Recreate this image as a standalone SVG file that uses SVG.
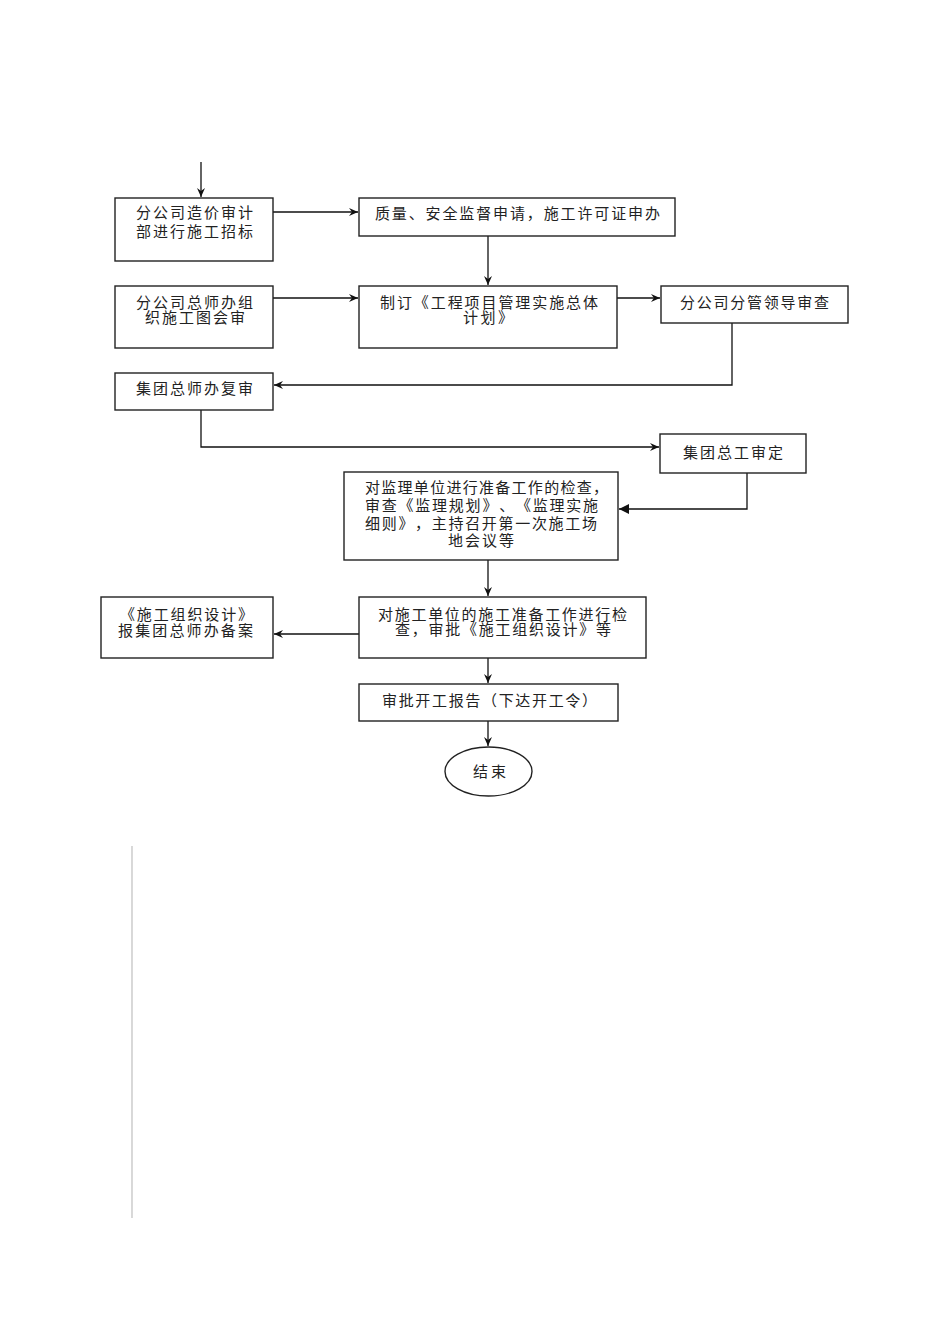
<svg xmlns="http://www.w3.org/2000/svg" width="950" height="1344" viewBox="0 0 950 1344">
<style>
.box{fill:#fff;stroke:#222;stroke-width:1.4}
.t{font-family:"Liberation Serif","Noto Sans CJK SC",serif;font-size:15px;fill:#222;text-spacing-trim:space-all}
.c{fill:none;stroke:#111;stroke-width:1.3}
</style>
<defs>
<marker id="a" markerUnits="userSpaceOnUse" markerWidth="10" markerHeight="10" refX="9" refY="5" orient="auto">
<path d="M0,1 L9,5 L0,9 L3,5 z" fill="#111"/>
</marker>
<marker id="f" markerUnits="userSpaceOnUse" markerWidth="12" markerHeight="12" refX="10" refY="5.5" orient="auto">
<path d="M0,0.5 L10,5.5 L0,10.5 z" fill="#111"/>
</marker>
</defs>
<rect width="950" height="1344" fill="#fff"/>
<g id="connectors">
<path class="c" d="M201,162 V197" marker-end="url(#a)"/>
<path class="c" d="M273,212 H358" marker-end="url(#a)"/>
<path class="c" d="M488,236 V285" marker-end="url(#a)"/>
<path class="c" d="M273,298 H358" marker-end="url(#a)"/>
<path class="c" d="M617,298 H660" marker-end="url(#a)"/>
<path class="c" d="M732,323 V385 H274" marker-end="url(#a)"/>
<path class="c" d="M201,410 V447 H659" marker-end="url(#a)"/>
<path class="c" d="M747,473 V509 H619" marker-end="url(#f)"/>
<path class="c" d="M488,560 V596" marker-end="url(#a)"/>
<path class="c" d="M359,634 H274" marker-end="url(#a)"/>
<path class="c" d="M488,658 V683" marker-end="url(#a)"/>
<path class="c" d="M488,721 V746" marker-end="url(#a)"/>
</g>
<g id="n1"><rect class="box" x="115" y="198" width="158" height="63"/>
<text class="t" x="136" y="218" textLength="117" lengthAdjust="spacing">分公司造价审计</text>
<text class="t" x="136" y="236.5" textLength="117" lengthAdjust="spacing">部进行施工招标</text></g>
<g id="n2"><rect class="box" x="359" y="198" width="316" height="38"/>
<text class="t" x="375" y="219" textLength="285" lengthAdjust="spacing">质量、安全监督申请，施工许可证申办</text></g>
<g id="n3"><rect class="box" x="115" y="286" width="158" height="62"/>
<text class="t" x="136" y="307.5" textLength="117" lengthAdjust="spacing">分公司总师办组</text>
<text class="t" x="145" y="323" textLength="100" lengthAdjust="spacing">织施工图会审</text></g>
<g id="n4"><rect class="box" x="359" y="286" width="258" height="62"/>
<text class="t" x="380" y="307.5" textLength="218" lengthAdjust="spacing">制订《工程项目管理实施总体</text>
<text class="t" x="463" y="323" textLength="50" lengthAdjust="spacing">计划》</text></g>
<g id="n5"><rect class="box" x="661" y="286" width="187" height="37"/>
<text class="t" x="680" y="307.5" textLength="149" lengthAdjust="spacing">分公司分管领导审查</text></g>
<g id="n6"><rect class="box" x="115" y="373" width="158" height="37"/>
<text class="t" x="136" y="393.5" textLength="117" lengthAdjust="spacing">集团总师办复审</text></g>
<g id="n7"><rect class="box" x="660" y="434" width="146" height="39"/>
<text class="t" x="683" y="457.5" textLength="100" lengthAdjust="spacing">集团总工审定</text></g>
<g id="n8"><rect class="box" x="344" y="472" width="274" height="88"/>
<text class="t" x="365" y="492.5" textLength="243" lengthAdjust="spacing">对监理单位进行准备工作的检查，</text>
<text class="t" x="365" y="511" textLength="233" lengthAdjust="spacing">审查《监理规划》、《监理实施</text>
<text class="t" x="365" y="528.5" textLength="232" lengthAdjust="spacing">细则》，主持召开第一次施工场</text>
<text class="t" x="448" y="545.5" textLength="66" lengthAdjust="spacing">地会议等</text></g>
<g id="n9"><rect class="box" x="359" y="597" width="287" height="61"/>
<text class="t" x="378" y="619.5" textLength="249" lengthAdjust="spacing">对施工单位的施工准备工作进行检</text>
<text class="t" x="395" y="635" textLength="216" lengthAdjust="spacing">查，审批《施工组织设计》等</text></g>
<g id="n10"><rect class="box" x="101" y="597" width="172" height="61"/>
<text class="t" x="120" y="619.5" textLength="133" lengthAdjust="spacing">《施工组织设计》</text>
<text class="t" x="118" y="636" textLength="135" lengthAdjust="spacing">报集团总师办备案</text></g>
<g id="n11"><rect class="box" x="359" y="684" width="259" height="37"/>
<text class="t" x="382" y="705.5" textLength="215" lengthAdjust="spacing">审批开工报告（下达开工令）</text></g>
<g id="n12"><ellipse class="box" cx="488.5" cy="771.5" rx="43.5" ry="24.5"/>
<text class="t" x="473" y="776.5" textLength="33" lengthAdjust="spacing">结束</text></g>
<line x1="132" y1="846" x2="132" y2="1218" stroke="#c4c4c4" stroke-width="1.3"/>
</svg>
